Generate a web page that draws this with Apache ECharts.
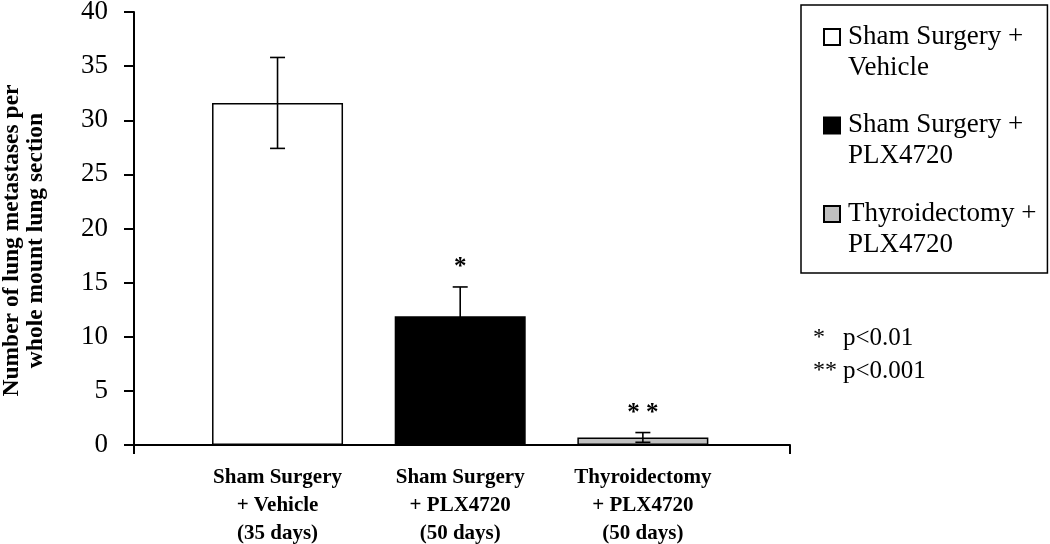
<!DOCTYPE html>
<html>
<head>
<meta charset="utf-8">
<script src="https://cdn.jsdelivr.net/npm/echarts@6/dist/echarts.min.js"></script>
<style>
html,body{margin:0;padding:0;background:#fff;}
#chart{width:1050px;height:544px;}
</style>
</head>
<body>
<div id="chart"></div>
<script>
// ---- data ----
var categories = ['Sham Surgery\n+ Vehicle\n(35 days)', 'Sham Surgery\n+ PLX4720\n(50 days)', 'Thyroidectomy\n+ PLX4720\n(50 days)'];
var seriesNames = ['Sham Surgery +\nVehicle', 'Sham Surgery +\nPLX4720', 'Thyroidectomy +\nPLX4720'];
var means = [31.6, 11.9, 0.7];
var errors = [4.2, 2.7, 0.45];
var significance = ['', '*', '* *'];
var yTicks = [0, 5, 10, 15, 20, 25, 30, 35, 40];
var pNotes = [['*', 'p<0.01'], ['**', 'p<0.001']];

var fills = ['#ffffff', '#000000', '#c0c0c0'];
var serif = '"Liberation Serif", "Times New Roman", serif';

var chart = echarts.init(document.getElementById('chart'), null, {renderer: 'canvas'});

var barSeries = seriesNames.map(function (name, i) {
  return {
    name: name,
    type: 'bar',
    xAxisIndex: 1,
    yAxisIndex: 1,
    barWidth: 131,
    barGap: '-100%',
    itemStyle: {color: fills[i], borderColor: '#000', borderWidth: 1.5},
    emphasis: {disabled: true},
    data: means.map(function (v, j) { return j === i ? v : '-'; }),
    z: 2
  };
});

var errData = means.map(function (m, i) { return [i, m, errors[i]]; });

var errSeries = {
  type: 'custom',
  xAxisIndex: 1,
  yAxisIndex: 1,
  z: 5,
  silent: true,
  data: errData,
  renderItem: function (params, api) {
    var i = api.value(0), m = api.value(1), e = api.value(2);
    var sig = significance[i];
    var top = api.coord([i, m + e]);
    var bot = api.coord([i, m - e]);
    var hw = 7.5;
    var style = {stroke: '#000', lineWidth: 1.6};
    var children = [
      {type: 'line', shape: {x1: top[0], y1: top[1], x2: bot[0], y2: bot[1]}, style: style},
      {type: 'line', shape: {x1: top[0] - hw, y1: top[1], x2: top[0] + hw, y2: top[1]}, style: style},
      {type: 'line', shape: {x1: bot[0] - hw, y1: bot[1], x2: bot[0] + hw, y2: bot[1]}, style: style}
    ];
    if (sig) {
      children.push({
        type: 'text',
        style: {
          text: sig, x: top[0], y: top[1] - 7,
          align: 'center', verticalAlign: 'bottom',
          font: 'bold 25px ' + serif, fill: '#000'
        }
      });
    }
    return {type: 'group', children: children};
  }
};

var option = {
  backgroundColor: '#fff',
  animation: false,
  grid: [
    {left: 134, top: 12, width: 656, height: 433, outerBoundsMode: 'none', containLabel: false},
    {left: 186.2, top: 12, width: 548, height: 433, outerBoundsMode: 'none', containLabel: false}
  ],
  xAxis: [
    {
      type: 'category', gridIndex: 0, data: [''],
      boundaryGap: true,
      axisLine: {lineStyle: {color: '#000', width: 2}},
      axisTick: {show: true, length: 9, lineStyle: {color: '#000', width: 2}},
      axisLabel: {show: false},
      splitLine: {show: false}
    },
    {
      type: 'category', gridIndex: 1, data: categories,
      axisLine: {show: false},
      axisTick: {show: false},
      axisLabel: {
        show: true, interval: 0, margin: 19,
        fontFamily: serif, fontWeight: 'bold', fontSize: 21, lineHeight: 28, color: '#000'
      },
      splitLine: {show: false}
    }
  ],
  yAxis: [
    {
      type: 'value', gridIndex: 0, min: 0, max: 40, interval: 5,
      name: 'Number of lung metastases per\nwhole mount lung section',
      nameLocation: 'middle', nameRotate: 90, nameGap: 86,
      nameTextStyle: {fontFamily: serif, fontWeight: 'bold', fontSize: 23.5, lineHeight: 24, color: '#000', padding: [0, 24, 0, 0]},
      axisLine: {show: true, lineStyle: {color: '#000', width: 2}},
      axisTick: {show: true, inside: false, length: 10, lineStyle: {color: '#000', width: 2}},
      axisLabel: {
        margin: 26, fontFamily: serif, fontSize: 27, color: '#000',
        formatter: function (v) { return yTicks.indexOf(v) >= 0 ? String(v) : ''; }
      },
      splitLine: {show: false}
    },
    {
      type: 'value', gridIndex: 1, min: 0, max: 40, interval: 5,
      show: false, splitLine: {show: false}
    }
  ],
  legend: {
    orient: 'vertical',
    left: 801, top: 5,
    padding: [15, 11, 12, 22],
    itemGap: 24.5,
    itemWidth: 16, itemHeight: 62,
    icon: 'path://M0,0L0,0M0,8H16V24H0ZM0,62L0,62',
    selectedMode: false,
    backgroundColor: '#fff',
    borderColor: '#000', borderWidth: 1.5,
    textStyle: {fontFamily: serif, fontSize: 27, lineHeight: 31, color: '#000', padding: [0, 0, 0, 3]},
    data: seriesNames
  },
  graphic: pNotes.map(function (p, k) {
    return {
      type: 'group', left: 813, top: 326 + k * 33,
      children: [
        {type: 'text', x: 0, y: 0, style: {text: p[0], font: '24px ' + serif, fill: '#000'}},
        {type: 'text', x: 30, y: 0, style: {text: p[1], font: '25px ' + serif, fill: '#000'}}
      ]
    };
  }),
  series: barSeries.concat([errSeries])
};

chart.setOption(option);
</script>
</body>
</html>
